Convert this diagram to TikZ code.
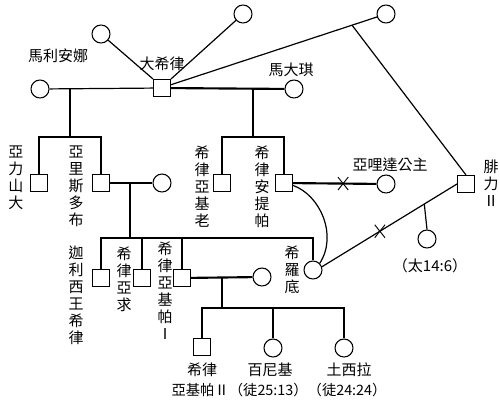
\documentclass[tikz,border=0pt]{standalone}
\usepackage{fontspec}
\setmainfont{Noto Sans CJK TC}
\usetikzlibrary{shapes.misc}
\begin{document}
\begin{tikzpicture}[x=0.75pt,y=-0.75pt,
  line width=0.9pt,
  male/.style={draw,rectangle,minimum size=12.75pt,inner sep=0pt,line width=0.8pt},
  female/.style={draw,circle,minimum size=13.5pt,inner sep=0pt,line width=0.8pt},
  lbl/.style={font=\fontsize{11.25}{12.75}\selectfont,inner sep=0pt,align=center},
  thk/.style={line width=1.6pt},
  xmark/.style={draw,cross out,minimum width=7pt,minimum height=9pt,inner sep=0pt,line width=0.7pt}]
\useasboundingbox (0,0) rectangle (500,404);
% generation 1
\node[male] (herod) at (162,88) {};
\node[female] (mariamne) at (40,89) {};
\node[female] (w1) at (101,34) {};
\node[female] (w2) at (243,14) {};
\node[female] (w3) at (386,14) {};
\node[female] (malthace) at (294,89) {};
\node[lbl] (lherod) at (162,64) {大希律};
\node[lbl] (lmariamne) at (58,56) {馬利安娜};
\node[lbl] (lmalthace) at (291,70) {馬大琪};
% generation 2
\node[male] (alex) at (39,183) {};
\node[male] (aristo) at (101,183) {};
\node[female] (aristowife) at (162,183) {};
\node[male] (arche) at (222,183) {};
\node[male] (antipas) at (284,183) {};
\node[female] (aretas) at (386,184) {};
\node[male] (philip) at (466,184) {};
\node[lbl] (lalex) at (16,178) {亞\\力\\山\\大};
\node[lbl] (laristo) at (76,186) {亞\\里\\斯\\多\\布};
\node[lbl] (larche) at (202,187) {希\\律\\亞\\基\\老};
\node[lbl] (lantipas) at (262,187) {希\\律\\安\\提\\帕};
\node[lbl] (laretas) at (390,165) {亞哩達公主};
\node[lbl] (lphilip) at (491,183) {腓\\力\\Ⅱ};
% generation 3
\node[male] (chalcis) at (101,278) {};
\node[male] (hx) at (142,278) {};
\node[male] (agrippa) at (182,278) {};
\node[female] (agwife) at (262,277) {};
\node[female] (herodias) at (313,270) {};
\node[female] (salome) at (427,239) {};
\node[lbl] (lchalcis) at (76,295) {迦\\利\\西\\王\\希\\律};
\node[lbl] (lhx) at (124,279) {希\\律\\亞\\求};
\node[lbl] (lagrippa) at (165,291) {希\\律\\亞\\基\\帕\\Ⅰ};
\node[lbl] (lherodias) at (292,270) {希\\羅\\底};
\node[lbl] (lsalome) at (430,266) {（太14:6）};
% generation 4
\node[male] (agrippa2) at (202,347) {};
\node[female] (bernice) at (273,348) {};
\node[female] (drusilla) at (344,348) {};
\node[lbl] (lagrippa2) at (202,370) {希律};
\node[lbl] (lbernice) at (270,370) {百尼基};
\node[lbl] (ldrusilla) at (349,370) {土西拉};
\node[lbl,font=\fontsize{10.75}{12.75}\selectfont] (lagrippa2b) at (279,390) {亞基帕Ⅱ（徒25:13）（徒24:24）};
% connectors generation 1
\draw (mariamne) -- (herod);
\draw (w1) -- (herod.north west);
\draw (herod.north east) -- (w2);
\draw (herod.20) -- (w3) coordinate[pos=0.879] (p1);
\draw (p1) -- (philip.north);
\draw[thk] (herod) -- (malthace);
\coordinate (m1) at (70,89);
\coordinate (b1) at (70,137);
\draw (m1) -- (b1);
\draw (alex.north) |- (b1) -| (aristo.north);
\coordinate (m2) at (253,89);
\coordinate (b2) at (253,137);
\draw (m2) -- (b2);
\draw (arche.north) |- (b2) -| (antipas.north);
% generation 2 marriages
\draw (aristo) -- (aristowife);
\coordinate (m3) at (130,183);
\coordinate (b3) at (130,238);
\draw (m3) -- (b3);
\draw[thk] (chalcis.north) |- (b3) -| (herodias.north);
\draw (chalcis.north) -- (chalcis.north |- b3);
\draw[thk] (hx.north) -- (hx.north |- b3);
\draw (agrippa.north) -- (agrippa.north |- b3);
\draw[thk] (antipas) -- (aretas) node[xmark,pos=0.6] (x1) {};
\draw (antipas.-15) .. controls (320,195) and (338,235) .. (herodias.45);
\draw (philip.west) -- (herodias.20)
  node[xmark,pos=0.571] (x2) {}
  coordinate[pos=0.242] (p2);
\draw (p2) -- (salome.north);
% generation 3 marriage
\draw[thk] (agrippa) -- (agwife);
\coordinate (m4) at (222,278);
\coordinate (b4) at (222,308);
\draw[thk] (m4) -- (b4);
\draw (agrippa2.north) |- (b4) -| (drusilla.north);
\draw[thk] (drusilla.north) -- (drusilla.north |- b4);
\draw[thk] (bernice.north) -- (bernice.north |- b4);
\end{tikzpicture}
\end{document}
